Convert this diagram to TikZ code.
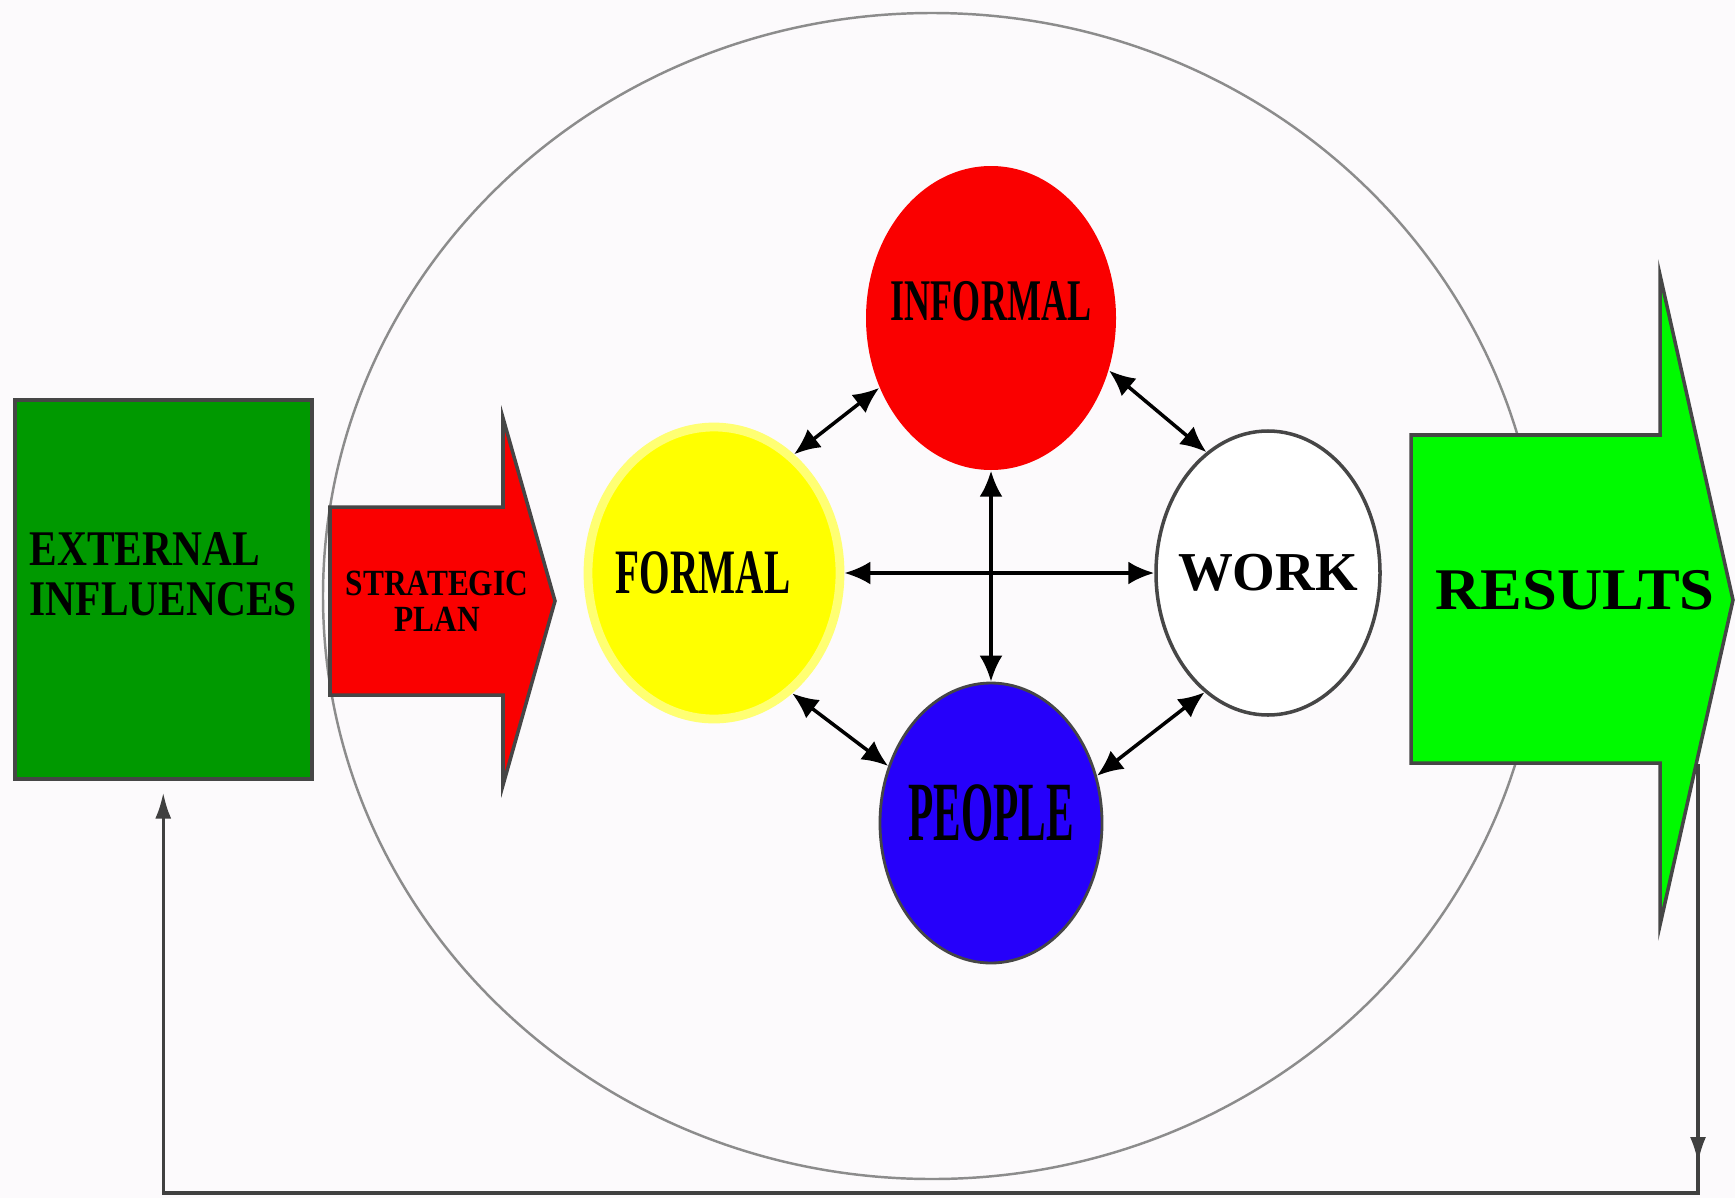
\documentclass[tikz,border=0pt]{standalone}
\usepackage{fontspec}
\setmainfont{Liberation Serif}
\usepackage{graphicx}
\usetikzlibrary{arrows.meta,positioning,calc,shapes.geometric}

\definecolor{paper}{RGB}{252,250,252}
\definecolor{extgreen}{RGB}{0,153,0}
\definecolor{resgreen}{RGB}{0,250,0}
\definecolor{planred}{RGB}{250,0,0}
\definecolor{peopleblue}{RGB}{38,0,250}
\definecolor{formalyellow}{RGB}{255,255,0}
\definecolor{edgegray}{RGB}{70,70,70}

% squeeze text sideways
\newcommand{\sqz}[2]{\scalebox{#1}[1]{#2}}

\begin{document}
\begin{tikzpicture}[
  blob/.style={ellipse, inner sep=0pt, align=center},
  link/.style={{Latex[length=2.6mm,width=2.3mm]}-{Latex[length=2.6mm,width=2.3mm]},
               line width=1pt, black},
  fb/.style={line width=0.9pt, black!75},
  fbarr/.style={fb, -{Latex[length=2.6mm,width=1.6mm]}},
  bigarrow/.style={draw=edgegray, line width=1pt, line join=miter},
  ring/.style={draw=black!45, line width=0.7pt}
]
\useasboundingbox[fill=paper] (0,0) rectangle (17.35,-11.98);

% ---------- outer ring ----------
\draw[ring] (9.32,-5.96) ellipse [x radius=6.09, y radius=5.83];

% ---------- input side ----------
\node[draw=edgegray, line width=1pt, fill=extgreen, anchor=north west,
      minimum width=2.97cm, minimum height=3.79cm, text width=2.67cm,
      inner xsep=0.15cm, align=left, font=\bfseries\fontsize{14.2}{14.2}\selectfont]
  (ext) at (0.13,-3.98)
  {\sqz{0.83}{EXTERNAL}\\\sqz{0.83}{INFLUENCES}\rule[-0.31cm]{0pt}{0pt}};

\draw[bigarrow, fill=planred] (3.30,-5.07) -- (5.03,-5.07) -- (5.03,-4.18)
  -- (5.55,-6.01) -- (5.03,-7.85) -- (5.03,-6.95) -- (3.30,-6.95) -- cycle;
\node[align=center, font=\bfseries\fontsize{10.5}{10.3}\selectfont]
  (plan) at (4.37,-6.01) {\sqz{0.85}{STRATEGIC}\\\sqz{0.85}{PLAN}};

% ---------- the four elements ----------
\node[blob, fill=formalyellow, draw=formalyellow!55, line width=2.5pt,
      minimum width=2.52cm, minimum height=2.92cm,
      font=\bfseries\fontsize{18}{18}\selectfont]
  (formal) at (7.14,-5.73) {\makebox[0pt]{\sqz{0.62}{FORMAL}\hspace{0.22cm}}};
\node[blob, fill=planred, minimum width=2.50cm, minimum height=3.04cm,
      font=\bfseries\fontsize{16.8}{16.8}\selectfont]
  (informal) at (9.91,-3.18) {\makebox[0pt]{\raisebox{0.34cm}{\sqz{0.61}{INFORMAL}}}};
\node[blob, fill=peopleblue, draw=edgegray, line width=0.8pt,
      minimum width=2.22cm, minimum height=2.80cm,
      font=\bfseries\fontsize{24}{24}\selectfont]
  (people) at (9.91,-8.23) {\makebox[0pt]{\raisebox{0.2cm}{\sqz{0.49}{PEOPLE}}}};
\node[blob, fill=white, draw=edgegray, line width=1pt,
      minimum width=2.24cm, minimum height=2.84cm,
      font=\bfseries\fontsize{15.6}{15.6}\selectfont]
  (work) at (12.68,-5.73) {\makebox[0pt]{WORK}};

\draw[link] (formal.56) -- (informal.212);
\draw[link] (informal.336) -- (work.117);
\draw[link] (informal.south) -- (people.north);
\draw[link] (formal.east) -- (work.west);
\draw[link] (formal.303) -- (people.151);
\draw[link] (people.24) -- (work.242);

% ---------- output side ----------
\draw[bigarrow, fill=resgreen] (14.11,-4.35) -- (16.60,-4.35) -- (16.60,-2.75)
  -- (17.33,-6.00) -- (16.60,-9.25) -- (16.60,-7.63) -- (14.11,-7.63) -- cycle;
\node[font=\bfseries\fontsize{16.8}{16.8}\selectfont]
  (results) at (15.75,-5.90) {\sqz{1.06}{RESULTS}};

% ---------- feedback ----------
\coordinate (resout) at (16.98,-7.64);
\coordinate (fbr) at (16.98,-11.93);
\draw[fbarr, shorten >=0.12cm] (resout) -- (fbr) -| (ext.south);
\draw[fbarr] (resout) -- ($(fbr)+(0,0.3)$);

\end{tikzpicture}
\end{document}
